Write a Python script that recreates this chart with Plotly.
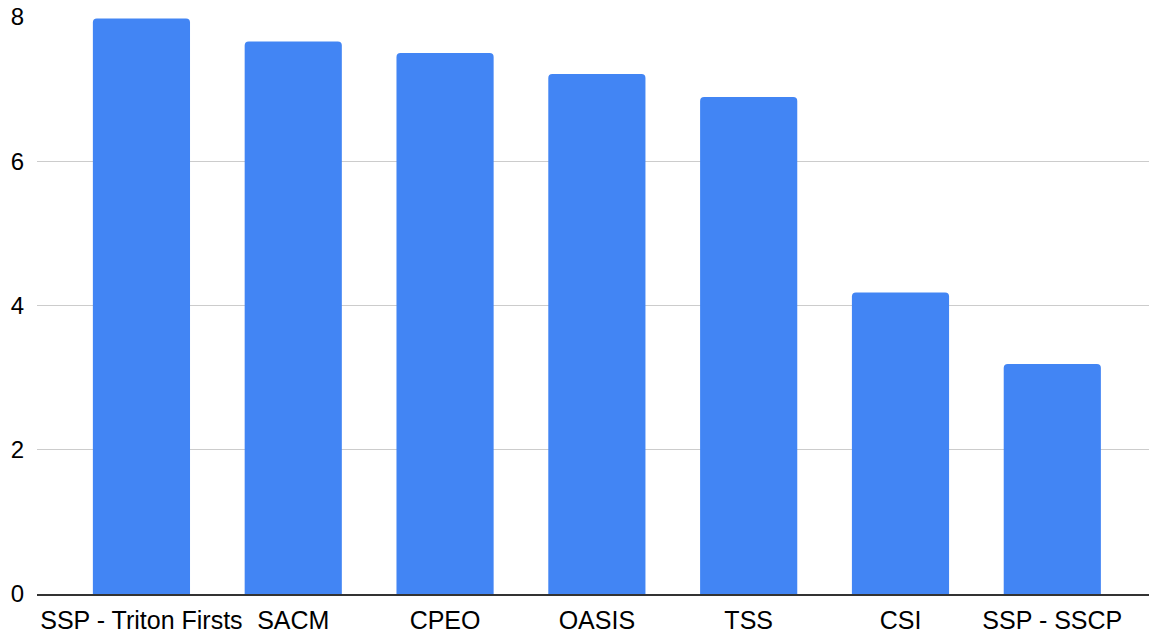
import plotly.graph_objects as go

categories = ["SSP - Triton Firsts", "SACM", "CPEO", "OASIS", "TSS", "CSI", "SSP - SSCP"]
values = [7.98, 7.66, 7.50, 7.21, 6.89, 4.18, 3.19]
y_ticks = [0, 2, 4, 6, 8]

fig = go.Figure(go.Bar(
    x=categories,
    y=values,
    marker=dict(color="#4285F4", line=dict(width=0)),
))

fig.update_layout(
    width=1149, height=633,
    margin=dict(l=37, r=0, t=17, b=39),
    paper_bgcolor="white", plot_bgcolor="white",
    bargap=0.36,
    barcornerradius=4,
    showlegend=False,
    font=dict(family="Liberation Sans, Arial, sans-serif", size=25, color="#000000"),
    xaxis=dict(
        range=[-0.688, 6.637],
        showgrid=False,
        showline=True, linecolor="#333333", linewidth=2,
        ticks="", tickfont=dict(size=25),
        ticklabelstandoff=3,
    ),
    yaxis=dict(
        range=[0, 8],
        tickvals=y_ticks,
        showgrid=True, gridcolor="#cccccc", gridwidth=1,
        zeroline=False,
        showline=False,
        ticks="", tickfont=dict(size=24),
        ticklabelstandoff=12,
    ),
)

fig.write_html("out.html")
